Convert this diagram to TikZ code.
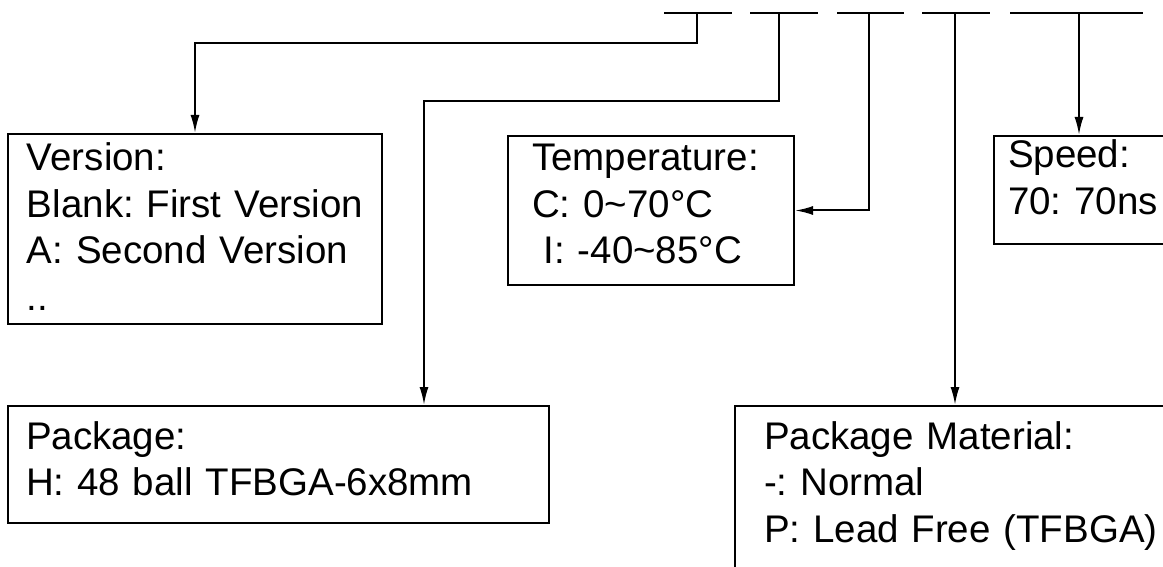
\documentclass[tikz,border=0pt]{standalone}
\usepackage{fontspec}
\setmainfont{Liberation Sans}
\usetikzlibrary{arrows.meta}
\tikzset{
  part/.style={rectangle,draw=black,line width=2pt,anchor=north west,align=left,
    inner ysep=0pt,font=\fontsize{38.5}{46.5}\selectfont\frenchspacing},
  arrow/.style={-{Latex[length=18pt,width=9pt]},line width=2pt,draw=black},
  slot/.style={line width=2pt,draw=black}
}
\begin{document}
\begin{tikzpicture}[x=1pt,y=-1pt]
\useasboundingbox (0,0) rectangle (1163,567);
% fields of the part number
\foreach \a/\b in {664/732,750/818,837/904,922/990,1010/1143}
  \draw[slot] (\a,13) -- (\b,13);
\coordinate (sv) at (697,13);
\coordinate (sp) at (779,13);
\coordinate (st) at (869,13);
\coordinate (sm) at (955,13);
\coordinate (ss) at (1079,13);
% option boxes
\node[part,inner xsep=19pt,text width=336pt,text height=37pt,text depth=153pt] (ver) at (7,133)
  {Version:\\Blank: First Version\\A: Second Version\\..};
\node[part,inner xsep=24pt,text width=238pt,text height=35pt,text depth=114pt] (tmp) at (507,135)
  {Temperature:\\C: 0\textasciitilde70°C\\\hspace*{0.3em}I: -40\textasciitilde85°C};
\node[part,inner xsep=14pt,text width=300pt,text height=32pt,text depth=76pt] (spd) at (993,135)
  {Speed:\\70: 70ns};
\node[part,inner xsep=18pt,text width=505pt,text height=43pt,text depth=74pt] (pkg) at (7,405)
  {Package:\\H: 48 ball TFBGA-6x8mm};
\node[part,inner xsep=29pt,text width=500pt,text height=43pt,text depth=200pt] (mat) at (734,405)
  {Package Material:\\-: Normal\\P: Lead Free (TFBGA)};
% connectors
\draw[arrow] (sv) -- ++(0,30) -| (ver.north);
\draw[arrow] (sp) -- ++(0,88) -| ([xshift=417pt]pkg.north west);
\draw[arrow] (st) |- (tmp.east);
\draw[arrow] (sm) -- (sm |- mat.north);
\draw[arrow] (ss) -- (ss |- spd.north);
\end{tikzpicture}
\end{document}
